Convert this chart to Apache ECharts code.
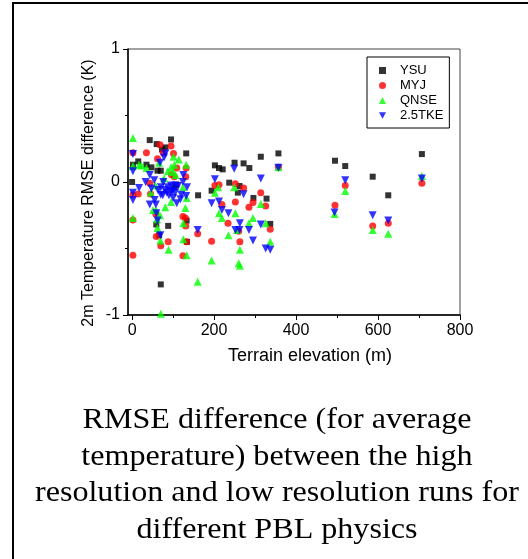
<!DOCTYPE html>
<html>
<head>
<meta charset="utf-8">
<title>RMSE difference vs terrain elevation</title>
<script src="https://cdn.jsdelivr.net/npm/echarts@6/dist/echarts.min.js"></script>
<style>
    html, body { margin: 0; padding: 0; background: #fff; }
    #chart { width: 528px; height: 559px; }
</style>
</head>
<body>
<div id="chart"></div>
<script type="text/javascript">

    // [terrain elevation (m), RMSE difference (K)]
    var ysu = [[0,0],[2,0.13],[15,0.155],[35,0.13],[43,0.315],[47,0.11],[60,0.285],[62,0.085],[70,0.085],[73,0.245],
        [81,0.26],[95,0.32],[103,-0.04],[108,-0.02],[132,0.215],[59,-0.32],[66,-0.4],[88,-0.33],[70,-0.77],[133,-0.29],
        [134,-0.45],[161,-0.1],[194,-0.065],[202,0.125],[212,0.105],[221,0.095],[237,-0.005],[250,0.145],[258,-0.08],
        [262,-0.03],[272,0.14],[286,0.105],[296,-0.12],[314,0.19],[328,-0.125],[337,-0.315],[357,0.215],[495,0.16],
        [520,0.12],[587,0.04],[625,-0.1],[707,0.21]];
    var myj = [[2,0.22],[2,-0.095],[2,-0.285],[2,-0.55],[15,-0.09],[35,0.22],[43,-0.01],[45,-0.09],[62,0.175],[68,0.28],
        [76,0.22],[95,0.27],[101,0.215],[109,0.105],[132,0.105],[103,0.04],[96,0.055],[131,0.04],[58,-0.24],[59,-0.41],
        [70,-0.48],[88,-0.45],[124,-0.26],[130,-0.27],[131,-0.33],[133,-0.45],[124,-0.555],[160,-0.39],[194,-0.445],
        [202,-0.027],[212,-0.02],[219,-0.17],[234,-0.31],[252,-0.15],[252,-0.013],[260,-0.37],[263,-0.45],[272,-0.045],
        [285,-0.19],[295,-0.155],[314,-0.08],[326,-0.18],[337,-0.355],[357,0.11],[495,-0.175],[520,-0.027],[587,-0.33],
        [625,-0.31],[707,-0.01]];
    var qnse = [[2,0.33],[2,0.12],[2,-0.27],[17,0.13],[23,0.125],[35,0.105],[46,-0.08],[51,-0.21],[57,-0.027],[58,-0.21],
        [61,-0.28],[62,-0.345],[66,0.145],[68,-0.25],[69,-0.44],[70,-0.99],[78,0.027],[81,-0.19],[87,0.08],[89,-0.51],
        [95,0.11],[95,-0.15],[100,0.075],[101,0.19],[103,0.13],[106,0.053],[114,0.17],[124,-0.04],[125,-0.31],[125,-0.43],
        [130,-0.195],[132,0.13],[133,-0.12],[133,-0.55],[160,-0.75],[194,-0.59],[202,-0.08],[210,-0.04],[212,-0.235],
        [219,-0.27],[235,-0.4],[249,-0.04],[252,-0.235],[256,-0.36],[260,-0.61],[263,-0.63],[263,-0.51],[285,-0.31],
        [295,-0.27],[314,-0.165],[326,-0.31],[337,-0.45],[357,0.11],[494,-0.24],[520,-0.067],[587,-0.36],[625,-0.39],
        [707,0.045]];
    var tke = [[2,0.21],[2,0.08],[2,-0.08],[2,-0.135],[17,-0.045],[33,0],[43,0.053],[47,-0.048],[43,-0.17],[54,0.013],
        [55,-0.135],[58,-0.17],[59,-0.235],[62,-0.29],[63,-0.06],[68,0.145],[69,-0.4],[70,-0.095],[70,-0.04],[75,-0.1],
        [76,0],[78,0.185],[80,-0.06],[81,0.215],[85,-0.08],[87,-0.04],[90,-0.1],[95,-0.027],[95,-0.07],[99,-0.067],
        [100,-0.12],[105,-0.027],[105,-0.08],[109,-0.16],[112,-0.03],[118,-0.13],[120,-0.095],[124,0],[125,0.053],
        [132,-0.105],[134,-0.04],[160,-0.36],[194,-0.16],[202,0.02],[212,-0.147],[219,-0.21],[235,-0.235],[249,0.1],
        [252,-0.36],[262,-0.36],[263,-0.31],[272,-0.093],[285,-0.36],[295,-0.44],[314,0.027],[314,-0.32],[326,-0.5],
        [337,-0.51],[357,0.107],[494,-0.23],[520,0.013],[587,-0.25],[625,-0.29],[707,0.027]];

    var xMajor = [0, 200, 400, 600, 800];
    var xMinor = [100, 300, 500, 700];
    var captionLines = [
        'RMSE difference (for average',
        'temperature) between the high',
        'resolution and low resolution runs for',
        'different PBL physics'
    ];

    var sans = 'Liberation Sans, Arial, sans-serif';
    var serif = 'Liberation Serif, Times New Roman, serif';

    var myChart = echarts.init(document.getElementById('chart'));

    var graphics = [
        // frame round the figure (only left and top edges show)
        { type: 'polyline', shape: { points: [[13, 562], [13, 3], [532, 3]] },
          style: { stroke: '#000', lineWidth: 2, fill: null } },
        { type: 'text', x: 89, y: 193, rotation: Math.PI / 2,
          style: { text: '2m Temperature RMSE difference (K)', font: '16px ' + sans, fill: '#000',
                   align: 'center', verticalAlign: 'middle' } },
        { type: 'text', x: 310, y: 356,
          style: { text: 'Terrain elevation (m)', font: '18px ' + sans, fill: '#000',
                   align: 'center', verticalAlign: 'middle' } }
    ];
    for (var i = 0; i < captionLines.length; i++) {
        graphics.push({ type: 'text', x: 277, y: 420 + i * 36.7, scaleX: 1.07,
            style: { text: captionLines[i], font: '30px ' + serif, fill: '#000',
                     align: 'center', verticalAlign: 'middle' } });
    }

    var option = {
        animation: false,
        backgroundColor: '#fff',
        grid: { left: 128, right: 68, top: 49, bottom: 244, show: true, borderColor: '#444', borderWidth: 1 },
        legend: {
            orient: 'vertical',
            left: 367, top: 57,
            padding: [7, 6, 6, 12],
            itemGap: 2,
            itemWidth: 7, itemHeight: 7,
            borderColor: '#000', borderWidth: 1,
            textStyle: { fontFamily: sans, fontSize: 13, color: '#000', padding: [0, 0, 0, 9] },
            data: [
                { name: 'YSU', icon: 'rect' },
                { name: 'MYJ', icon: 'circle' },
                { name: 'QNSE', icon: 'triangle' },
                { name: '2.5TKE', icon: 'path://M0,0L10,0L5,9Z' }
            ]
        },
        xAxis: [{
            type: 'value', min: -10, max: 800, position: 'bottom',
            axisLine: { show: true, onZero: false, lineStyle: { color: '#000', width: 1.5 } },
            axisTick: { show: true, length: 5, customValues: xMajor, lineStyle: { color: '#000' } },
            axisLabel: { customValues: xMajor, margin: 8, fontSize: 16, fontFamily: sans, color: '#000' },
            splitLine: { show: false }
        }, {
            type: 'value', min: -10, max: 800, position: 'bottom',
            axisLine: { show: false, onZero: false },
            axisTick: { show: true, length: 3, customValues: xMinor, lineStyle: { color: '#000' } },
            axisLabel: { show: false },
            splitLine: { show: false }
        }],
        yAxis: {
            type: 'value', min: -1, max: 1, interval: 1,
            axisLine: { show: true, onZero: false, lineStyle: { color: '#000', width: 1.5 } },
            axisTick: { show: true, length: 5, lineStyle: { color: '#000' } },
            minorTick: { show: true, splitNumber: 2, length: 3, lineStyle: { color: '#000' } },
            axisLabel: { margin: 8, fontSize: 16, fontFamily: sans, color: '#000' },
            splitLine: { show: false },
            minorSplitLine: { show: false }
        },
        series: [
            { name: 'YSU', type: 'scatter', data: ysu, symbol: 'rect', symbolSize: 6,
              itemStyle: { color: '#000' } },
            { name: 'MYJ', type: 'scatter', data: myj, symbol: 'circle', symbolSize: 7,
              itemStyle: { color: '#ff0000' } },
            { name: 'QNSE', type: 'scatter', data: qnse, symbol: 'triangle', symbolSize: 8,
              itemStyle: { color: '#00ff00' } },
            { name: '2.5TKE', type: 'scatter', data: tke, symbol: 'triangle', symbolRotate: 180, symbolSize: 8,
              itemStyle: { color: '#0000ff' } }
        ],
        graphic: graphics
    };

    myChart.setOption(option);
</script>
</body>
</html>
